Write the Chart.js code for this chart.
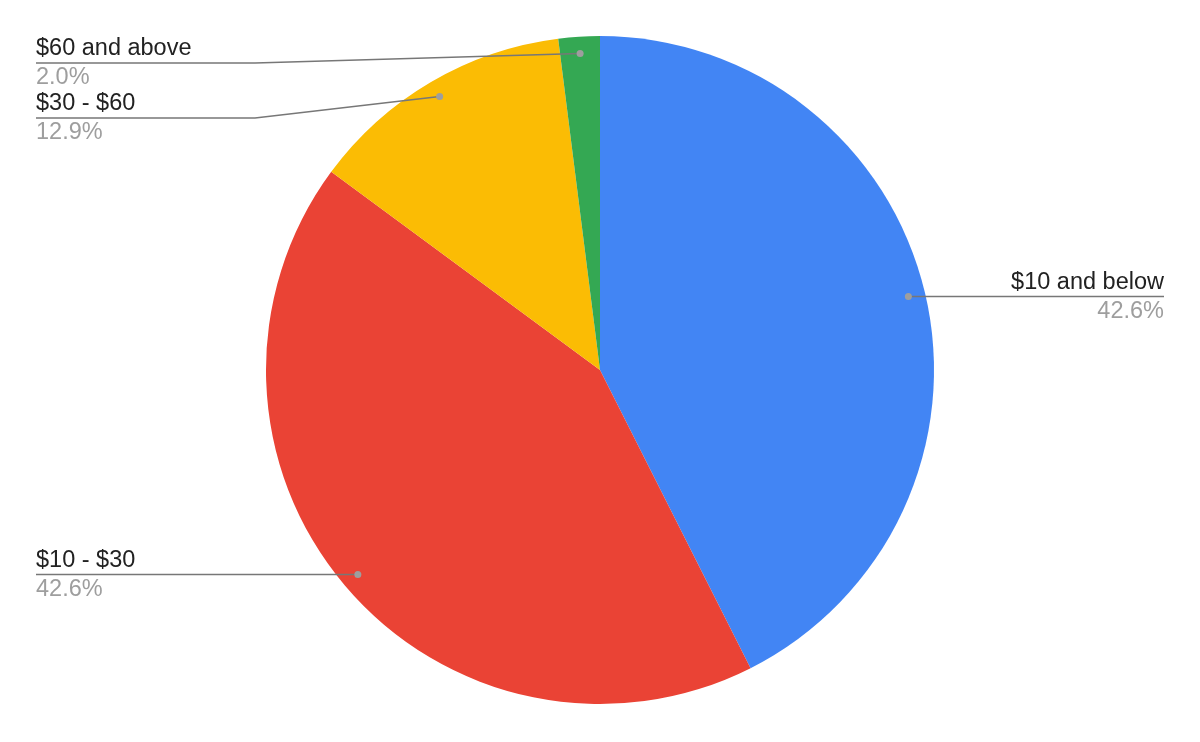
<!DOCTYPE html>
<html>
<head>
<meta charset="utf-8">
<script src="https://cdn.jsdelivr.net/npm/chart.js@4.4.1/dist/chart.umd.min.js"></script>
<style>
  html, body { margin: 0; padding: 0; background: #fff; }
  #wrap { width: 1200px; height: 742px; position: relative; }
</style>
</head>
<body>
<div id="wrap"><canvas id="c"></canvas></div>
<script>
const categories = ['$10 and below', '$10 - $30', '$30 - $60', '$60 and above'];
const values = [42.6, 42.6, 12.9, 2.0];
const sliceColors = ['#4285f4', '#ea4335', '#fbbc04', '#34a853'];

const FONT = '23.5px "Liberation Sans", Arial, sans-serif';

const leaderLabels = {
  id: 'leaderLabels',
  afterDatasetsDraw(chart) {
    const ctx = chart.ctx;
    const meta = chart.getDatasetMeta(0);
    const total = values.reduce((a, b) => a + b, 0);
    const W = chart.width;
    const margin = 36;
    const elbowOffset = 219;
    const minTop = 63;
    const gap = 55;
    const items = meta.data.map((arc, i) => {
      const p = arc.getProps(['x', 'y', 'startAngle', 'endAngle', 'outerRadius'], true);
      const mid = (p.startAngle + p.endAngle) / 2;
      const r = p.outerRadius - 17;
      const px = p.x + Math.cos(mid) * r;
      const py = p.y + Math.sin(mid) * r;
      return { i, px, py, side: px >= p.x ? 'right' : 'left' };
    });
    ['left', 'right'].forEach(side => {
      const list = items.filter(it => it.side === side).sort((a, b) => a.py - b.py);
      let prev = -Infinity;
      list.forEach(it => {
        it.ly = Math.max(it.py, prev + gap, minTop);
        prev = it.ly;
      });
    });
    ctx.save();
    items.forEach(it => {
      const left = it.side === 'left';
      const tx = left ? margin : W - margin;
      const ex = left ? margin + elbowOffset : W - margin - elbowOffset;
      ctx.strokeStyle = '#777777';
      ctx.lineWidth = 1.5;
      ctx.beginPath();
      ctx.moveTo(tx, it.ly);
      if (Math.abs(it.ly - it.py) > 0.5) {
        ctx.lineTo(ex, it.ly);
      }
      ctx.lineTo(it.px, it.py);
      ctx.stroke();
      ctx.fillStyle = '#9e9e9e';
      ctx.beginPath();
      ctx.arc(it.px, it.py, 3.5, 0, Math.PI * 2);
      ctx.fill();
      ctx.font = FONT;
      ctx.textAlign = left ? 'left' : 'right';
      ctx.textBaseline = 'alphabetic';
      ctx.fillStyle = '#222222';
      ctx.fillText(categories[it.i], tx, it.ly - 8);
      ctx.fillStyle = '#9e9e9e';
      ctx.fillText((values[it.i] / total * 100).toFixed(1) + '%', tx, it.ly + 21);
    });
    ctx.restore();
  }
};

new Chart(document.getElementById('c'), {
  type: 'pie',
  data: {
    labels: categories,
    datasets: [{
      data: values,
      backgroundColor: sliceColors,
      borderWidth: 0
    }]
  },
  options: {
    responsive: true,
    maintainAspectRatio: false,
    animation: false,
    layout: { padding: { top: 36, bottom: 38, left: 0, right: 0 } },
    plugins: {
      legend: { display: false },
      tooltip: { enabled: false }
    }
  },
  plugins: [leaderLabels]
});
</script>
</body>
</html>
